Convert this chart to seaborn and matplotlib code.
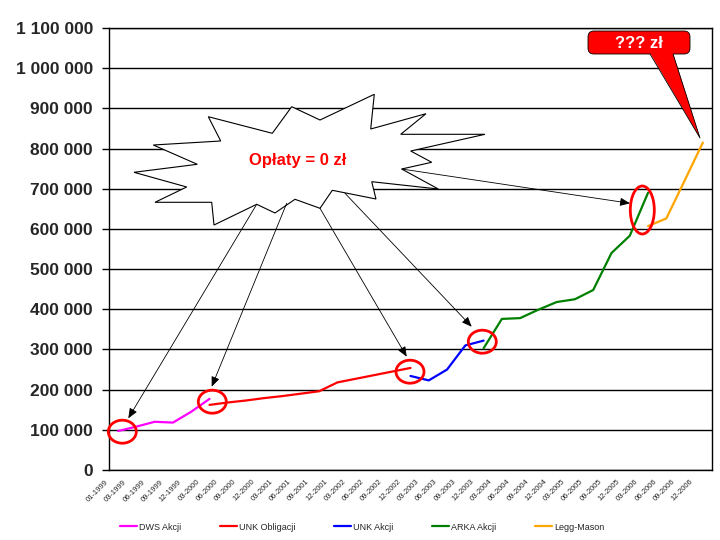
import numpy as np
import pandas as pd
import seaborn as sns
import matplotlib.pyplot as plt
from matplotlib.patches import Polygon, Ellipse, FancyBboxPatch
from matplotlib.transforms import Affine2D, ScaledTranslation

# Quarter labels on the category axis
dates = ['01-1999', '03-1999', '06-1999', '09-1999', '12-1999',
         '03-2000', '06-2000', '09-2000', '12-2000',
         '03-2001', '06-2001', '09-2001', '12-2001',
         '03-2002', '06-2002', '09-2002', '12-2002',
         '03-2003', '06-2003', '09-2003', '12-2003',
         '03-2004', '06-2004', '09-2004', '12-2004',
         '03-2005', '06-2005', '09-2005', '12-2005',
         '03-2006', '06-2006', '09-2006', '12-2006']

# Fund names and values (PLN), each series starts at its own quarter
funds = ['DWS Akcji', 'UNK Obligacji', 'UNK Akcji', 'ARKA Akcji', 'Legg-Mason']
colors = ['#ff00ff', '#ff0000', '#0000ff', '#008000', '#ffa500']
starts = [0, 5, 16, 20, 29]
dws = [97000, 108000, 120000, 118000, 145000, 177000]
unk_obl = [162000, 168000, 173000, 179000, 184000, 190000, 196000,
           218000, 227000, 236000, 245000, 254000]
unk_akcji = [234000, 223000, 250000, 310000, 322000]
arka = [303000, 376000, 378000, 399000, 418000, 425000, 448000,
        540000, 583000, 690000]
legg = [607000, 626000, 720000, 815000]
series = [dws, unk_obl, unk_akcji, arka, legg]

rows = []
for name, s0, vals in zip(funds, starts, series):
    for i, v in enumerate(vals):
        rows.append({'idx': s0 + i, 'value': v, 'fund': name})
df = pd.DataFrame(rows)

sns.set_style('white')
plt.rcParams['font.family'] = ['Liberation Sans', 'DejaVu Sans']

fig = plt.figure(figsize=(7.2, 5.4), dpi=100)
ax = fig.add_axes([109/720, 1 - 470/540, (712 - 109)/720, (470 - 28)/540])

sns.lineplot(data=df, x='idx', y='value', hue='fund', hue_order=funds,
             palette=colors, linewidth=1.6, ax=ax, zorder=3)

# axes
ax.set_xlim(-0.5, len(dates) - 0.5)
ax.set_ylim(0, 1100000)
yt = np.arange(0, 1100001, 100000)
ax.set_yticks(yt)
ax.set_yticklabels([f'{v:,.0f}'.replace(',', ' ') for v in yt],
                   fontsize=12.5, fontweight='bold')
ax.set_xticks(range(len(dates)))
ax.set_xticklabels(dates, rotation=45, ha='right', va='top',
                   rotation_mode='anchor', fontsize=5.5)
ax.set_xticks(np.arange(-0.5, len(dates), 1), minor=True)
ax.tick_params(axis='x', which='major', length=0, pad=6)
ax.tick_params(axis='x', which='minor', length=4, width=1, color='black',
               direction='out')
ax.tick_params(axis='y', length=5, width=1, color='black', direction='out',
               pad=6.5, left=True)
off = ScaledTranslation(-0.13, 0, fig.dpi_scale_trans)
for lbl in ax.get_xticklabels():
    lbl.set_transform(lbl.get_transform() + off)
ax.set_xlabel('')
ax.set_ylabel('')
ax.yaxis.grid(True, color='black', linewidth=1)
ax.set_axisbelow(True)
for sp in ax.spines.values():
    sp.set_color('black')
    sp.set_linewidth(1)

sns.move_legend(ax, 'center', bbox_to_anchor=(0.503, 0.024),
                bbox_transform=fig.transFigure, ncol=5, frameon=False,
                title=None, fontsize=6.5, handlelength=1.9,
                handletextpad=0.2, columnspacing=4.3)

# decorations, placed in picture pixels (origin top-left)
pix = Affine2D().scale(1/720, -1/540).translate(0, 1) + fig.transFigure

star = [(291.7, 106.7), (320, 120), (374.3, 94.3), (370.7, 129), (426, 113.7),
        (400.7, 134.3), (485, 134.3), (410.7, 151), (431.7, 162.3),
        (401.7, 169), (438.3, 189), (371.7, 181.7), (376, 199),
        (332.3, 190.3), (320, 208.3), (295, 199.3), (275, 213),
        (256.7, 204.3), (214, 225), (211.7, 202.3), (155, 202.3),
        (186.7, 187), (134, 172.3), (197.3, 164.3), (153.3, 145),
        (220.7, 141), (208.3, 116.7), (272.3, 133.3)]
ax.add_patch(Polygon(star, closed=True, facecolor='white', edgecolor='black',
                     lw=0.8, transform=pix, clip_on=False, zorder=5))
ax.text(298, 161, 'Opłaty = 0 zł', color='red', fontsize=12,
        fontweight='bold', ha='center', va='center', transform=pix, zorder=6)

circles = [(122.3, 431.7, 28, 23), (212.3, 401.7, 28, 23),
           (410, 371.7, 28, 23), (482.3, 341.7, 28, 23),
           (642.3, 210, 24, 48)]
for cx, cy, w, h in circles:
    ax.add_patch(Ellipse((cx, cy), w, h, fill=False, edgecolor='red', lw=2,
                         transform=pix, clip_on=False, zorder=6))

arrows = [((256.7, 204.3), (128.3, 418.3)), ((286.7, 203.3), (211.7, 386.7)),
          ((320, 208.3), (406.7, 356.7)), ((345, 193.3), (471.7, 326.7)),
          ((401.7, 169), (630, 203.3))]
for a, b in arrows:
    ax.annotate('', xy=b, xycoords=pix, xytext=a, textcoords=pix,
                arrowprops=dict(arrowstyle='-|>,head_length=0.6,head_width=0.25',
                                color='black', lw=0.6, mutation_scale=10,
                                shrinkA=0, shrinkB=0),
                zorder=7, annotation_clip=False)

# red speech bubble
ax.add_patch(FancyBboxPatch((588, 31), 102, 23,
                            boxstyle='round,pad=0,rounding_size=6',
                            facecolor='red', edgecolor='black', lw=0.6,
                            transform=pix, clip_on=False, zorder=8))
ax.add_patch(Polygon([(650, 53), (673, 53), (700, 138)], closed=True,
                     facecolor='red', edgecolor='none', transform=pix,
                     clip_on=False, zorder=9))
ax.plot([650, 700, 673], [54, 138, 54], color='black', lw=0.6,
        transform=pix, clip_on=False, zorder=9)
ax.text(639, 43, '??? zł', color='white', fontsize=12, fontweight='bold',
        ha='center', va='center', transform=pix, zorder=10)

fig.savefig('out.png', dpi=100)
